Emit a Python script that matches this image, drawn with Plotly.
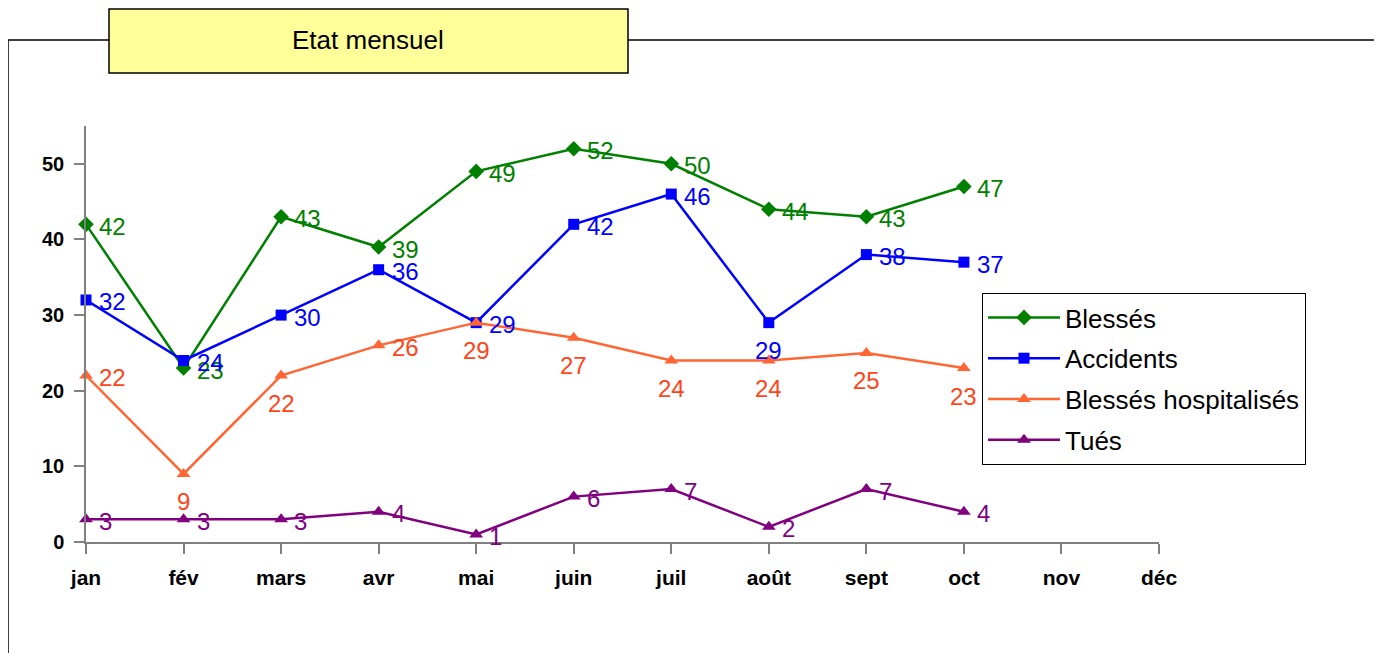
import plotly.graph_objects as go

months = ["jan", "fév", "mars", "avr", "mai", "juin", "juil", "août", "sept", "oct", "nov", "déc"]
blesses = [42, 23, 43, 39, 49, 52, 50, 44, 43, 47]
accidents = [32, 24, 30, 36, 29, 42, 46, 29, 38, 37]
hospitalises = [22, 9, 22, 26, 29, 27, 24, 24, 25, 23]
tues = [3, 3, 3, 4, 1, 6, 7, 2, 7, 4]

# label placement per point: 'r' = right of point, 'b' = below point
pos_blesses = ["r"] * 10
pos_accidents = ["r", "r", "r", "r", "r", "r", "r", "b", "r", "r"]
pos_hosp = ["r", "b", "b", "r", "b", "b", "b", "b", "b", "b"]
pos_tues = ["r"] * 10

W, H = 1382, 653
OFF = 8  # page body margin offset
# plot area in screenshot pixels: x 86..1159, y 126..542
L, R, T, B = 86 - OFF, W - (1159 - OFF), 126 - OFF, H - (542 - OFF)
PW, PH = W - L - R, H - T - B


def px(x):
    return (x - OFF - L) / PW


def py(y):
    return (H - B - (y - OFF)) / PH


FONT = "Arial, Liberation Sans, sans-serif"

series = [
    ("Blessés", blesses, "#008000", "#008000", "diamond", 12, pos_blesses),
    ("Accidents", accidents, "#0000FF", "#0000FF", "square", 11, pos_accidents),
    ("Blessés hospitalisés", hospitalises, "#FF6633", "#FF4419", "triangle-up", 12, pos_hosp),
    ("Tués", tues, "#800080", "#800080", "triangle-up", 12, pos_tues),
]

fig = go.Figure()
annotations = []
for i, (name, vals, col, tcol, sym, msz, pos) in enumerate(series):
    xs = list(range(len(vals)))
    fig.add_trace(go.Scatter(
        x=xs, y=vals, name=name, mode="lines+markers",
        line=dict(color=col, width=2.5),
        marker=dict(symbol=sym, size=msz, color=col),
        cliponaxis=False, legendgroup=f"g{i}",
    ))
    for x, v, p in zip(xs, vals, pos):
        if p == "r":
            annotations.append(dict(x=x, y=v, xref="x", yref="y", text=str(v), showarrow=False,
                                    xanchor="left", yanchor="middle", xshift=11, yshift=-2,
                                    font=dict(family=FONT, size=24, color=tcol)))
        else:
            annotations.append(dict(x=x, y=v, xref="x", yref="y", text=str(v), showarrow=False,
                                    xanchor="center", yanchor="middle", yshift=-28,
                                    font=dict(family=FONT, size=24, color=tcol)))

# title text
annotations.append(dict(x=px(368), y=py(40), xref="paper", yref="paper", text="Etat mensuel",
                        showarrow=False, xanchor="center", yanchor="middle",
                        font=dict(family=FONT, size=26, color="black")))

shapes = [
    dict(type="rect", xref="paper", yref="paper", x0=px(8), x1=px(1376), y0=py(680), y1=py(40),
         line=dict(color="black", width=1.5), fillcolor="rgba(0,0,0,0)", layer="below"),
    dict(type="rect", xref="paper", yref="paper", x0=px(109), x1=px(628), y0=py(73), y1=py(9),
         line=dict(color="black", width=1.5), fillcolor="#FFFF99", layer="above"),
]

fig.update_layout(
    width=W, height=H,
    margin=dict(l=L, r=R, t=T, b=B),
    paper_bgcolor="white", plot_bgcolor="white",
    font=dict(family=FONT, color="black"),
    showlegend=True,
    legend=dict(x=px(982), y=py(293), xanchor="left", yanchor="top",
                bgcolor="white", bordercolor="black", borderwidth=1,
                font=dict(family=FONT, size=26, color="black"),
                tracegroupgap=4, itemwidth=72, traceorder="grouped"),
    annotations=annotations,
    shapes=shapes,
    xaxis=dict(range=[0, 11], tickmode="array", tickvals=list(range(12)), ticktext=months,
               showgrid=False, zeroline=False, showline=True, linecolor="#808080", linewidth=1.5,
               ticks="outside", ticklen=10, tickcolor="#808080", tickwidth=1.5,
               tickfont=dict(family=FONT, size=21, color="black", weight="bold"),
               ticklabelstandoff=6),
    yaxis=dict(range=[0, 55], tickmode="array", tickvals=[0, 10, 20, 30, 40, 50],
               showgrid=False, zeroline=False, showline=True, linecolor="#808080", linewidth=1.5,
               ticks="outside", ticklen=10, tickcolor="#808080", tickwidth=1.5,
               tickfont=dict(family=FONT, size=20, color="black", weight="bold"),
               ticklabelstandoff=6),
)

fig.write_html("out.html")
